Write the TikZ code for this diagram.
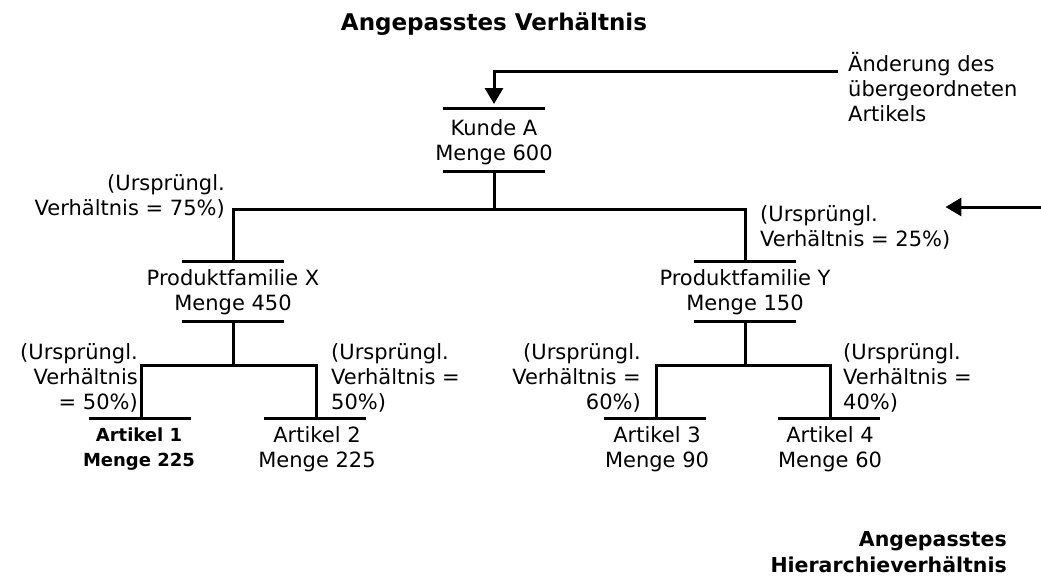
\documentclass[tikz,border=0pt]{standalone}
\usepackage{fontspec}
\setmainfont{DejaVu Sans}
\usetikzlibrary{arrows.meta}

\begin{document}
\begin{tikzpicture}[x=1pt,y=-1pt,
  font=\fontsize{21}{25}\selectfont,
  ent/.style={align=center,inner sep=0pt},
  note/.style={inner sep=0pt},
  ttl/.style={font=\fontsize{23}{25}\selectfont\bfseries,inner sep=0pt,align=right},
  bar/.style={line width=3pt},
  wire/.style={line width=3pt},
  arr/.style={line width=3pt,-{Triangle[length=16pt,width=18pt]}}]
  \useasboundingbox[fill=white] (0,0) rectangle (1041,581);
  \node[ttl] (title) at (494,24) {Angepasstes Verhältnis};
  \node[ttl,font=\fontsize{20.5}{26}\selectfont\bfseries,anchor=east] (subttl) at (1007,552) {Angepasstes\\Hierarchieverhältnis};
  \node[ent] (kunde) at (494,142) {Kunde A\\Menge 600};
  \node[ent] (pfx) at (233,292) {Produktfamilie X\\Menge 450};
  \node[ent] (pfy) at (745,292) {Produktfamilie Y\\Menge 150};
  \node[ent,font=\fontsize{18}{25}\selectfont\bfseries] (art1) at (139,449) {Artikel 1\\Menge 225};
  \node[ent] (art2) at (317,449) {Artikel 2\\Menge 225};
  \node[ent] (art3) at (657,449) {Artikel 3\\Menge 90};
  \node[ent] (art4) at (830,449) {Artikel 4\\Menge 60};
  \node[note,anchor=west,align=left] (chg) at (848,87) {Änderung des\\übergeordneten\\Artikels};
  \node[note,anchor=east,align=right] (v75) at (225,196) {(Ursprüngl.\\Verhältnis = 75\%)};
  \node[note,anchor=west,align=left] (v25) at (760,227) {(Ursprüngl.\\Verhältnis = 25\%)};
  \node[note,anchor=east,align=right] (v50a) at (138,378) {(Ursprüngl.\\Verhältnis\\= 50\%)};
  \node[note,anchor=west,align=left] (v50b) at (331,378) {(Ursprüngl.\\Verhältnis =\\50\%)};
  \node[note,anchor=east,align=right] (v60) at (641,378) {(Ursprüngl.\\Verhältnis =\\60\%)};
  \node[note,anchor=west,align=left] (v40) at (843,378) {(Ursprüngl.\\Verhältnis =\\40\%)};
  \coordinate (kunde-t) at (494,108);
  \coordinate (kunde-b) at (494,171);
  \coordinate (pfx-t) at (233,261);
  \coordinate (pfx-b) at (233,321);
  \coordinate (pfy-t) at (745,261);
  \coordinate (pfy-b) at (745,321);
  \coordinate (art1-t) at (141,418);
  \coordinate (art2-t) at (316,418);
  \coordinate (art3-t) at (656,418);
  \coordinate (art4-t) at (830,418);
  \coordinate (s0) at (494,209);
  \coordinate (s1) at (233,365);
  \coordinate (s2) at (745,365);
  \coordinate (rin) at (1041,207);
  \foreach \n in {kunde,pfx,pfy} {
    \draw[bar] ([xshift=-51pt]\n-t) -- ([xshift=51pt]\n-t);
    \draw[bar] ([xshift=-51pt]\n-b) -- ([xshift=51pt]\n-b);
  }
  \foreach \n in {art1,art2,art3,art4} \draw[bar] ([xshift=-52pt]\n-t) -- ([xshift=50pt]\n-t);
  \draw[wire] (kunde-b) -- (s0);
  \draw[wire] (pfx-t) |- (s0) -| (pfy-t);
  \draw[wire] (pfx-b) -- (s1);
  \draw[wire] (art1-t) |- (s1) -| (art2-t);
  \draw[wire] (pfy-b) -- (s2);
  \draw[wire] (art3-t) |- (s2) -| (art4-t);
  \draw[arr,shorten >=4pt] ([xshift=-10pt,yshift=16pt]chg.west) -| (kunde-t);
  \draw[arr,shorten >=-5pt] (rin) -- (rin -| v25.east);
\end{tikzpicture}
\end{document}
